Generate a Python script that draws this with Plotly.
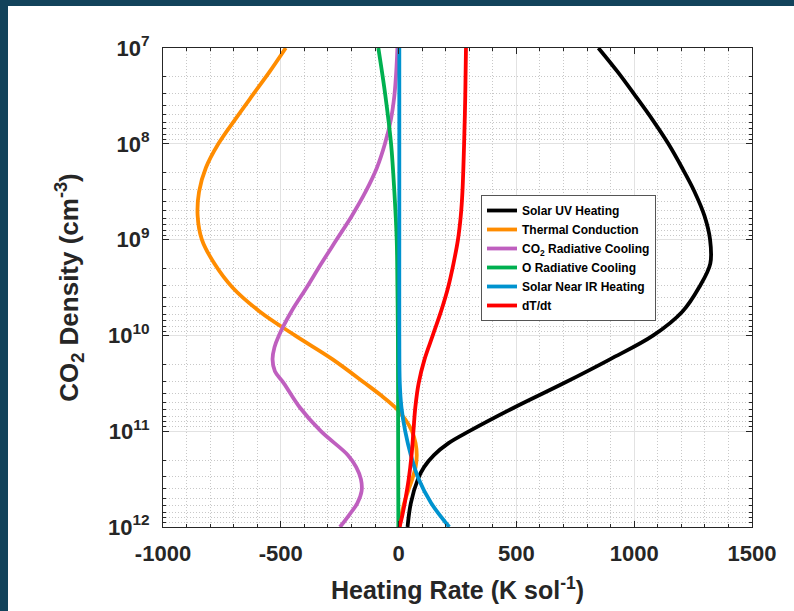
import plotly.graph_objects as go

# ---------------- data (log10 of CO2 density, heating rate in K/sol) ----------------
uv_logn = [7.0, 7.25, 7.5, 7.75, 8.0, 8.25, 8.5, 8.75, 9.0, 9.25, 9.5, 9.75, 10.0, 10.25, 10.5, 10.75, 11.0, 11.125, 11.25, 11.375, 11.5, 11.75, 12.0]
uv_rate = [848, 930, 1005, 1078, 1145, 1203, 1256, 1298, 1322, 1323, 1275, 1205, 1081, 897, 700, 493, 300, 212, 150, 108, 82, 52, 38]

cond_logn = [7.0, 7.25, 7.5, 7.75, 8.0, 8.25, 8.5, 8.75, 9.0, 9.25, 9.5, 9.75, 10.0, 10.25, 10.5, 10.625, 10.75, 10.875, 11.0, 11.125, 11.25, 11.375, 11.5, 11.625, 11.75, 11.875, 12.0]
cond_rate = [-479, -548, -622, -695, -765, -818, -847, -853, -835, -782, -705, -590, -440, -280, -142, -75, -15, 28, 57, 72, 77, 72, 58, 40, 24, 12, 4]

co2_logn = [7.0, 7.25, 7.5, 7.75, 8.0, 8.25, 8.5, 8.75, 9.0, 9.25, 9.5, 9.75, 10.0, 10.125, 10.25, 10.375, 10.5, 10.75, 11.0, 11.25, 11.375, 11.5, 11.625, 11.75, 11.875, 12.0]
co2_rate = [-5, -10, -18, -33, -58, -92, -140, -198, -263, -328, -390, -455, -508, -527, -535, -525, -487, -420, -330, -215, -180, -160, -157, -175, -210, -249]

o_logn = [7.0, 7.5, 8.0, 8.5, 9.0, 9.5, 10.0, 11.0, 12.0]
o_rate = [-86, -56, -32, -18, -8, -5, -3, -2, -1]

nir_logn = [7.0, 8.0, 9.0, 10.0, 10.5, 10.75, 11.0, 11.25, 11.5, 11.75, 12.0]
nir_rate = [3, 3, 3, 3, 5, 12, 28, 52, 85, 138, 215]

dtdt_logn = [7.0, 7.5, 8.0, 8.5, 8.75, 9.0, 9.25, 9.5, 9.75, 10.0, 10.25, 10.5, 10.75, 11.0, 11.25, 11.5, 11.75, 11.875, 12.0]
dtdt_rate = [286, 283, 278, 271, 264, 252, 233, 210, 180, 145, 110, 85, 71, 63, 55, 43, 26, 16, 4]

series_names = ["Solar UV Heating", "Thermal Conduction", "CO<sub>2</sub> Radiative Cooling",
                "O Radiative Cooling", "Solar Near IR Heating", "dT/dt"]
series_colors = ["#000000", "#FF8C00", "#BF5FBF", "#00B050", "#0093CF", "#FF0000"]

x_tickvals = [-1000, -500, 0, 500, 1000, 1500]
y_tickvals = [1e7, 1e8, 1e9, 1e10, 1e11, 1e12]
y_ticktext = ["10<sup>7</sup>", "10<sup>8</sup>", "10<sup>9</sup>", "10<sup>10</sup>", "10<sup>11</sup>", "10<sup>12</sup>"]

# ---------------- figure ----------------
W, H = 794, 611
ML, MR, MT, MB = 163, 42, 48, 84
PW, PH = W - ML - MR, H - MT - MB

def px_x(p):
    return (p - ML) / PW

def px_y(p):
    return (H - MB - p) / PH

fig = go.Figure()
data = [(uv_logn, uv_rate), (cond_logn, cond_rate), (co2_logn, co2_rate),
        (o_logn, o_rate), (nir_logn, nir_rate), (dtdt_logn, dtdt_rate)]
for (ln, rt), name, col in zip(data, series_names, series_colors):
    fig.add_trace(go.Scatter(
        x=rt, y=[10 ** v for v in ln], mode="lines", name=name,
        line=dict(color=col, width=3.8, shape="spline", smoothing=1.0),
    ))

font_family = "Liberation Sans, Arial, sans-serif"
axis_col = "#262626"
minor_grid = dict(showgrid=True, gridcolor="#c8c8c8", griddash="1px,2px", gridwidth=1)

fig.update_xaxes(
    range=[-1000, 1500], tickvals=x_tickvals, ticktext=[str(v) for v in x_tickvals],
    showline=True, linecolor=axis_col, linewidth=1, mirror="allticks",
    ticks="inside", ticklen=6, tickcolor=axis_col, ticklabelstandoff=7,
    showgrid=True, gridcolor="#e2e2e2", gridwidth=1.2, zeroline=False,
    minor=dict(dtick=100, ticks="inside", ticklen=3, tickcolor=axis_col, **minor_grid),
    tickfont=dict(family=font_family, size=22, color=axis_col, weight="bold"),
    title=dict(text="Heating Rate (K sol<sup>-1</sup>)", standoff=16,
               font=dict(family=font_family, size=25, color=axis_col, weight="bold")),
)
fig.update_yaxes(
    type="log", range=[12, 7], tickvals=y_tickvals, ticktext=y_ticktext,
    showline=True, linecolor=axis_col, linewidth=1, mirror="allticks",
    ticks="inside", ticklen=6, tickcolor=axis_col, ticklabelstandoff=8,
    showgrid=True, gridcolor="#e2e2e2", gridwidth=1.2, zeroline=False,
    minor=dict(dtick="D1", ticks="inside", ticklen=3, tickcolor=axis_col, **minor_grid),
    tickfont=dict(family=font_family, size=22, color=axis_col, weight="bold"),
    title=dict(text="CO<sub>2</sub> Density (cm<sup>-3</sup>)", standoff=21,
               font=dict(family=font_family, size=26, color=axis_col, weight="bold")),
)

frame_col = "#12435B"
fig.add_shape(type="rect", xref="paper", yref="paper", layer="below",
              x0=px_x(-10), x1=px_x(W + 10), y0=px_y(6), y1=px_y(-10),
              fillcolor=frame_col, line=dict(width=0))
fig.add_shape(type="rect", xref="paper", yref="paper", layer="below",
              x0=px_x(-10), x1=px_x(8), y0=px_y(H + 10), y1=px_y(-10),
              fillcolor=frame_col, line=dict(width=0))

fig.update_layout(
    width=W, height=H,
    margin=dict(l=ML, r=MR, t=MT, b=MB),
    paper_bgcolor="white", plot_bgcolor="white",
    font=dict(family=font_family, color=axis_col),
    legend=dict(
        x=px_x(481), y=px_y(258), xanchor="left", yanchor="middle",
        bgcolor="white", bordercolor="#555555", borderwidth=1,
        font=dict(family=font_family, size=12, color="#000000", weight="bold"),
        tracegroupgap=0, itemwidth=30,
    ),
    showlegend=True,
)

fig.write_html("out.html")
